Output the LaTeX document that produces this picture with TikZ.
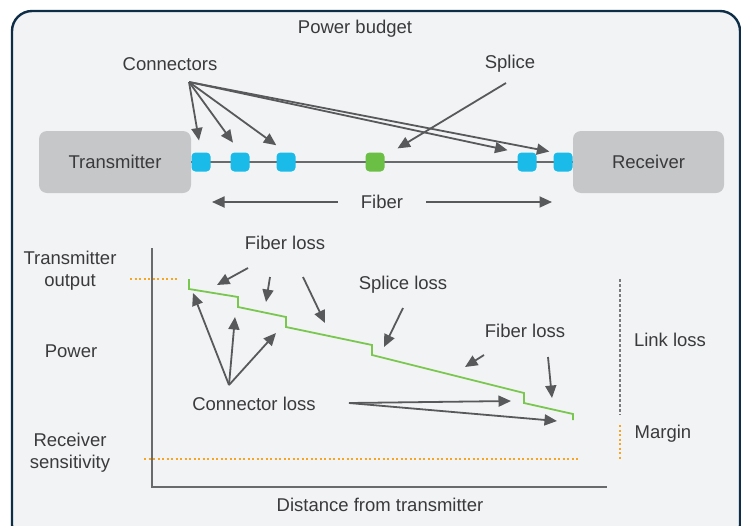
\documentclass[tikz,border=0pt]{standalone}
\usepackage{fontspec}
\setmainfont{Liberation Sans}
\usepackage{tikz}
\usetikzlibrary{arrows.meta}
\usepackage{xcolor}
\definecolor{frameblue}{HTML}{0E2E48}
\definecolor{panel}{HTML}{F2F3F5}
\definecolor{boxgrey}{HTML}{C6C7C9}
\definecolor{plugblue}{HTML}{1ABBE9}
\definecolor{splicegreen}{HTML}{6CBF45}
\definecolor{lossgreen}{HTML}{7AC74F}
\definecolor{arrgrey}{HTML}{58595B}
\definecolor{txt}{HTML}{3A3A3C}
\definecolor{dotorange}{HTML}{F5A623}
\tikzset{
    lbl/.style={text=txt,font=\fontsize{18.5}{22}\selectfont,align=center,inner sep=0},
    unit/.style={draw=none,fill=boxgrey,rounded corners=8,minimum width=#1,minimum height=62,
        text=txt,font=\fontsize{18.5}{22}\selectfont},
    plug/.style={draw=none,fill=plugblue,rounded corners=4,minimum size=19,inner sep=0},
    arr/.style={draw=arrgrey,line width=1.8,-{Triangle[length=12.5,width=11]}},
    orangedots/.style={draw=dotorange,line width=1.6,dash pattern=on 2 off 2.5},
    greydots/.style={draw=arrgrey!80,line width=1.6,dash pattern=on 2.5 off 2.5},
}
\newcommand{\fibloss}[3] {
    \coordinate (#1a) at (#2);
    \coordinate (#1b) at (#3);
    \draw[arr] (#1a) -- (#1b);
}
\begin{document}
\begin{tikzpicture}[x=1pt,y=-1pt]
    \useasboundingbox (0,0) rectangle (741,525);
    \clip (0,0) rectangle (741,525);
    \draw[fill=panel,draw=frameblue,line width=2.4,rounded corners=20] (12,11) rectangle (740,545);

    \node[lbl] (title) at (355,29) {Power budget};
    \node[lbl] (conn) at (170,64) {Connectors};
    \node[lbl] (splice) at (510,64) {Splice};

    \node[unit=152] (tx) at (115,162) {Transmitter};
    \node[unit=151] (rx) at (648.5,162) {Receiver};
    \draw[arrgrey!90,line width=1.8] (tx.east) -- (rx.west);
    \foreach \n/\x in {c1/201,c2/240,c3/286,c4/527,c5/563}
        \node[plug] (\n) at (\x,162) {};
    \node[plug,fill=splicegreen] (sp) at (375,162) {};

    \coordinate (cf) at (189,82);
    \foreach \n in {c1,c2,c3}
        \draw[arr,shorten >=12] (cf) -- (\n.north);
    \draw[arr,shorten >=10] (cf) -- (c4.north west);
    \draw[arr,shorten >=4] (cf) -- (c5.north west);
    \coordinate (sf) at (506,83);
    \draw[arr,shorten >=15] (sf) -- (sp);

    \node[lbl] (fiber) at (382,202) {Fiber};
    \coordinate (fl) at (212,202);
    \coordinate (fr) at (552,202);
    \draw[arr] ([xshift=-23]fiber.west) -- (fl);
    \draw[arr] ([xshift=23]fiber.east) -- (fr);

    \draw[arrgrey!90,line width=1.8] (152,248) -- (152,487) -- (607,487);
    \draw[lossgreen,line width=1.8] (189,279) -- (189,289) -- (238,297) -- (238,307)
        -- (286,317) -- (286,327) -- (372,345) -- (372,355) -- (524,393)
        -- (524,403) -- (573,414) -- (573,420);

    \node[lbl] (txout) at (70,271) {Transmitter\\output};
    \node[lbl] (power) at (71,351) {Power};
    \node[lbl] (rxsens) at (70,453) {Receiver\\sensitivity};
    \node[lbl] (dist) at (380,505) {Distance from transmitter};
    \draw[orangedots] (130,279) -- (177,279);
    \draw[orangedots] (144,459) -- (578,459);

    \node[lbl] (fl1) at (285,243) {Fiber loss};
    \fibloss{f1}{248,268}{217,285}
    \fibloss{f2}{270,277}{266,302}
    \fibloss{f3}{303,277}{325,323}
    \node[lbl] (spl) at (403,285) {Splice loss};
    \fibloss{s1}{403,308}{384,347}
    \node[lbl] (fl2) at (525,331) {Fiber loss};
    \fibloss{f4}{484,355}{465,367}
    \fibloss{f5}{548,357}{552,398}

    \node[lbl] (cl) at (254,404) {Connector loss};
    \coordinate (ca) at (229,385);
    \coordinate (cb) at (349,403);
    \draw[arr] (ca) -- (193,293);
    \draw[arr] (ca) -- (235,317);
    \draw[arr] (ca) -- (276,333);
    \draw[arr] (cb) -- (511,401);
    \draw[arr] (cb) -- (557,421);

    \draw[greydots] (620,279) -- (620,415);
    \draw[orangedots] (620,425) -- (620,459);
    \node[lbl] (link) at (670,340) {Link loss};
    \node[lbl] (margin) at (663,434) {Margin};
\end{tikzpicture}
\end{document}
